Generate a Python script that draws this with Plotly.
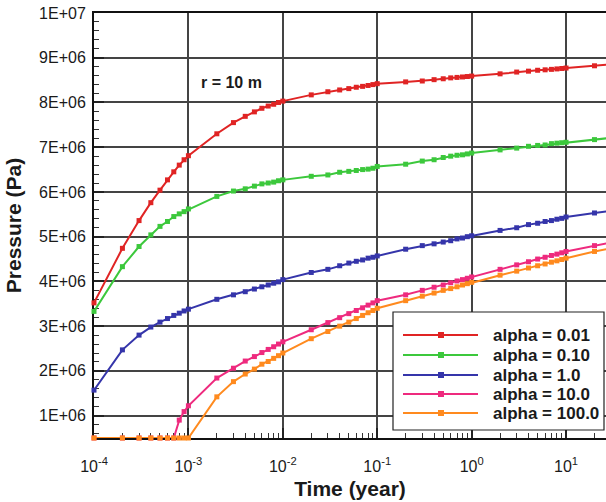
import plotly.graph_objects as go

time_year = [
    1e-4, 2e-4, 3e-4, 4e-4, 5e-4, 6e-4, 7e-4, 8e-4, 9e-4,
    1e-3, 2e-3, 3e-3, 4e-3, 5e-3, 6e-3, 7e-3, 8e-3, 9e-3,
    1e-2, 2e-2, 3e-2, 4e-2, 5e-2, 6e-2, 7e-2, 8e-2, 9e-2,
    1e-1, 2e-1, 3e-1, 4e-1, 5e-1, 6e-1, 7e-1, 8e-1, 9e-1,
    1, 2, 3, 4, 5, 6, 7, 8, 9,
    10, 20, 30,
]

# pressures in units of 1E+06 Pa
p_alpha_001 = [
    3.52, 4.74, 5.36, 5.76, 6.04, 6.27, 6.45, 6.60, 6.72,
    6.81, 7.30, 7.55, 7.69, 7.79, 7.87, 7.92, 7.96, 8.00,
    8.03, 8.17, 8.24, 8.28, 8.31, 8.34, 8.36, 8.38, 8.40,
    8.42, 8.46, 8.48, 8.51, 8.53, 8.55, 8.56, 8.57, 8.58,
    8.59, 8.64, 8.68, 8.70, 8.72, 8.73, 8.74, 8.75, 8.76,
    8.77, 8.82, 8.85,
]
p_alpha_010 = [
    3.33, 4.33, 4.78, 5.04, 5.23, 5.34, 5.45, 5.51, 5.56,
    5.62, 5.90, 6.02, 6.07, 6.13, 6.18, 6.20, 6.22, 6.25,
    6.27, 6.35, 6.38, 6.44, 6.46, 6.48, 6.50, 6.51, 6.53,
    6.57, 6.62, 6.69, 6.72, 6.77, 6.80, 6.82, 6.83, 6.85,
    6.87, 6.94, 6.98, 7.02, 7.04, 7.05, 7.08, 7.09, 7.10,
    7.11, 7.17, 7.21,
]
p_alpha_1 = [
    1.57, 2.47, 2.80, 2.98, 3.09, 3.17, 3.24, 3.29, 3.34,
    3.38, 3.60, 3.70, 3.77, 3.83, 3.88, 3.92, 3.96, 3.99,
    4.04, 4.20, 4.27, 4.35, 4.41, 4.45, 4.48, 4.52, 4.54,
    4.57, 4.72, 4.80, 4.84, 4.88, 4.91, 4.95, 4.97, 5.00,
    5.02, 5.14, 5.20, 5.27, 5.30, 5.34, 5.36, 5.39, 5.41,
    5.44, 5.53, 5.58,
]
p_alpha_10 = [
    0.5, 0.5, 0.5, 0.5, 0.5, 0.5, 0.5, 0.90, 1.09,
    1.22, 1.84, 2.06, 2.22, 2.32, 2.41, 2.48, 2.54, 2.60,
    2.65, 2.92, 3.08, 3.19, 3.28, 3.35, 3.41, 3.47, 3.52,
    3.57, 3.70, 3.80, 3.87, 3.92, 3.97, 4.01, 4.04, 4.07,
    4.10, 4.27, 4.37, 4.44, 4.50, 4.54, 4.58, 4.61, 4.64,
    4.67, 4.80, 4.87,
]
p_alpha_100 = [
    0.5, 0.5, 0.5, 0.5, 0.5, 0.5, 0.5, 0.5, 0.5,
    0.5, 1.42, 1.76, 1.93, 2.04, 2.15, 2.21, 2.28, 2.34,
    2.40, 2.72, 2.88, 3.00, 3.09, 3.17, 3.24, 3.30, 3.35,
    3.40, 3.57, 3.67, 3.74, 3.80, 3.84, 3.88, 3.92, 3.95,
    3.98, 4.14, 4.23, 4.30, 4.35, 4.39, 4.43, 4.46, 4.49,
    4.52, 4.67, 4.74,
]

series_names = ["alpha = 0.01", "alpha = 0.10", "alpha = 1.0", "alpha = 10.0", "alpha = 100.0"]
series_values = [p_alpha_001, p_alpha_010, p_alpha_1, p_alpha_10, p_alpha_100]
series_colors = ["#e02424", "#3cc83c", "#3535aa", "#ee2a7e", "#ff8a1e"]

y_tick_vals = [1e6, 2e6, 3e6, 4e6, 5e6, 6e6, 7e6, 8e6, 9e6, 1e7]
y_tick_text = ["1E+06", "2E+06", "3E+06", "4E+06", "5E+06", "6E+06", "7E+06", "8E+06", "9E+06", "1E+07"]
x_tick_vals = [1e-4, 1e-3, 1e-2, 1e-1, 1, 10]
x_tick_text = ["10<sup>-4</sup>", "10<sup>-3</sup>", "10<sup>-2</sup>", "10<sup>-1</sup>", "10<sup>0</sup>", "10<sup>1</sup>"]

FONT = "Liberation Sans, Arial, sans-serif"
TXT = "#1a1a1a"

W, H = 606, 502
ML, MR, MT, MB = 94, 0, 13, 64
PW, PH = W - ML - MR, H - MT - MB


def px_x(px):
    return (px - ML) / PW


def px_y(py):
    return (H - MB - py) / PH


fig = go.Figure()
for name, vals, col in zip(series_names, series_values, series_colors):
    fig.add_trace(go.Scatter(
        x=time_year, y=[v * 1e6 for v in vals], name=name, mode="lines+markers",
        line=dict(color=col, width=2),
        marker=dict(symbol="square", size=5, color=col),
        cliponaxis=False, showlegend=False,
    ))

# hand-drawn legend box (matches reference layout)
shapes = [dict(type="rect", xref="paper", yref="paper",
               x0=px_x(393), x1=px_x(604), y0=px_y(430), y1=px_y(312),
               line=dict(color="#222222", width=1.2), fillcolor="white", layer="above")]
annotations = []
row_y = [335, 355, 375, 394, 413]
for name, col, ry in zip(series_names, series_colors, row_y):
    shapes.append(dict(type="line", xref="paper", yref="paper",
                       x0=px_x(403), x1=px_x(478), y0=px_y(ry), y1=px_y(ry),
                       line=dict(color=col, width=2), layer="above"))
    shapes.append(dict(type="rect", xref="paper", yref="paper",
                       x0=px_x(438), x1=px_x(444), y0=px_y(ry + 3), y1=px_y(ry - 3),
                       line=dict(color=col, width=0), fillcolor=col, layer="above"))
    annotations.append(dict(x=px_x(491), y=px_y(ry), xref="paper", yref="paper",
                            xanchor="left", yanchor="middle", showarrow=False,
                            text="<b>%s</b>" % name,
                            font=dict(family=FONT, size=17, color=TXT)))

annotations.append(dict(
    x=px_x(231), y=px_y(82), xref="paper", yref="paper", text="<b>r = 10 m</b>",
    xanchor="center", yanchor="middle",
    showarrow=False, font=dict(family=FONT, size=16, color=TXT),
))

fig.update_layout(
    width=W, height=H,
    margin=dict(l=ML, r=MR, t=MT, b=MB),
    paper_bgcolor="white", plot_bgcolor="white",
    font=dict(family=FONT, color=TXT),
    showlegend=False,
    shapes=shapes,
    annotations=annotations,
)

fig.update_xaxes(
    type="log", range=[-4, 1.423],
    tickvals=x_tick_vals, ticktext=x_tick_text,
    ticks="inside", ticklen=10, tickwidth=1.5, tickcolor="#222222",
    tickfont=dict(family=FONT, size=16, color=TXT),
    ticklabelstandoff=13,
    showgrid=True, gridcolor="#444444", gridwidth=1.5,
    showline=True, linecolor="#111111", linewidth=2, mirror=True,
    minor=dict(ticks="inside", ticklen=5, tickwidth=1.2, tickcolor="#333333", dtick="D1", showgrid=False),
    layer="below traces",
    title=dict(text="<b>Time (year)</b>", font=dict(family=FONT, size=21, color=TXT), standoff=7),
    zeroline=False,
)
fig.update_yaxes(
    range=[5e5, 1e7],
    tickvals=y_tick_vals, ticktext=y_tick_text,
    ticks="inside", ticklen=10, tickwidth=1.5, tickcolor="#222222",
    tickfont=dict(family=FONT, size=16, color=TXT),
    ticklabelstandoff=3,
    showgrid=True, gridcolor="#444444", gridwidth=1.5,
    showline=True, linecolor="#111111", linewidth=2,
    minor=dict(ticks="inside", ticklen=5, tickwidth=1.2, tickcolor="#333333", dtick=2e5, showgrid=False),
    layer="below traces",
    title=dict(text="<b>Pressure (Pa)</b>", font=dict(family=FONT, size=21, color=TXT), standoff=12),
    zeroline=False,
)

fig.write_html("out.html")
